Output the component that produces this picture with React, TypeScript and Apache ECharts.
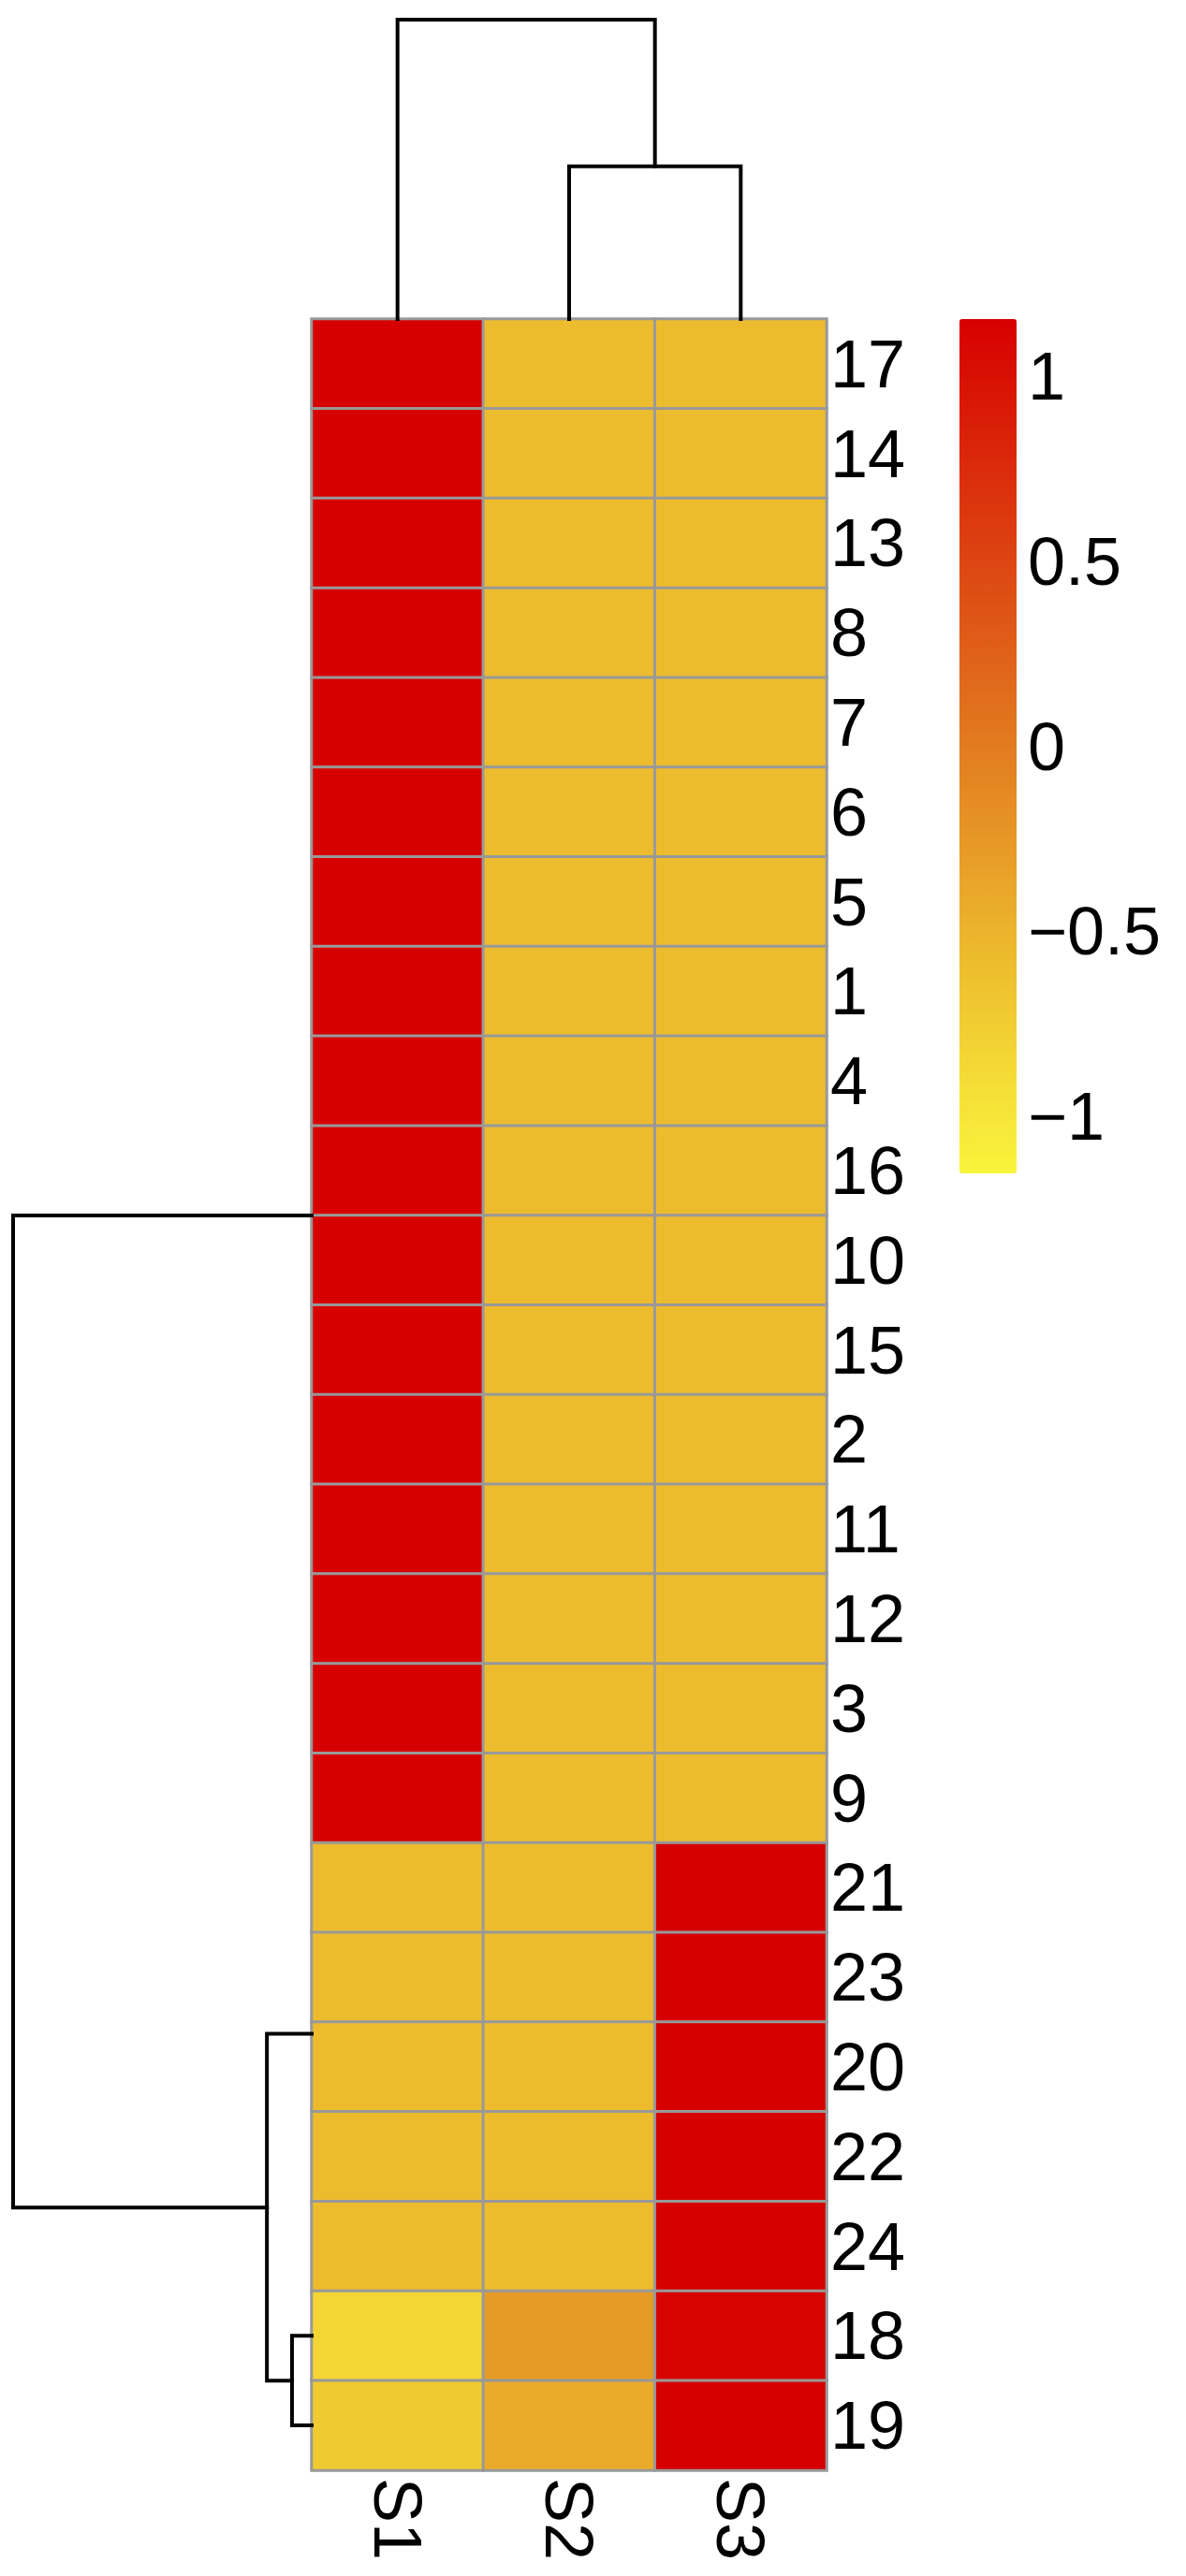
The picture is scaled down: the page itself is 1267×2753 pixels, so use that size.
import React, { useEffect, useRef } from "react";
import * as echarts from "echarts";

// Row labels, top to bottom, as ordered by the row dendrogram
const ROW_LABELS = ["17", "14", "13", "8", "7", "6", "5", "1", "4", "16", "10", "15", "2", "11", "12", "3", "9", "21", "23", "20", "22", "24", "18", "19"];
const COL_LABELS = ["S1", "S2", "S3"];

// Row-scaled values (z-scores), one array per column, in row order above
const S1_VALUES = [1.155, 1.155, 1.155, 1.155, 1.155, 1.155, 1.155, 1.155, 1.155, 1.155, 1.155, 1.155, 1.155, 1.155, 1.155, 1.155, 1.155, -0.577, -0.577, -0.577, -0.577, -0.577, -0.84, -0.72];
const S2_VALUES = [-0.577, -0.577, -0.577, -0.577, -0.577, -0.577, -0.577, -0.577, -0.577, -0.577, -0.577, -0.577, -0.577, -0.577, -0.577, -0.577, -0.577, -0.577, -0.577, -0.577, -0.577, -0.577, -0.28, -0.43];
const S3_VALUES = [-0.577, -0.577, -0.577, -0.577, -0.577, -0.577, -0.577, -0.577, -0.577, -0.577, -0.577, -0.577, -0.577, -0.577, -0.577, -0.577, -0.577, 1.155, 1.155, 1.155, 1.155, 1.155, 1.12, 1.15];

// Colour scale
const SCALE_MIN = -1.1547;
const SCALE_MAX = 1.1547;
const SCALE_TICKS = [-1, -0.5, 0, 0.5, 1];
const SCALE_COLORS = ["#FAF43C", "#EDBC2E", "#E27B20", "#DC3D10", "#D70000"];

// Column dendrogram links: [leftPos, rightPos, leftChildHeight, rightChildHeight, mergeHeight]
// positions in column units (centres at 0.5, 1.5, 2.5), heights relative to root
const COL_LINKS = [
  [1.5, 2.5, 0, 0, 0.51],
  [0.5, 2.0, 0, 0.51, 1.0],
];

// Row dendrogram links: [topPos, bottomPos, topChildHeight, bottomChildHeight, mergeHeight]
// positions in row units from the top (row i spans i..i+1), heights relative to root
const ROW_LINKS = [
  [22.5, 23.5, 0, 0, 0.066],
  [19.13, 23.0, 0, 0.066, 0.15],
  [10.0, 21.07, 0, 0.15, 1.0],
];

const FONT = "'Liberation Sans', Arial, Helvetica, sans-serif";

export default function App() {
  const ref = useRef<HTMLDivElement>(null);

  useEffect(() => {
    document.body.style.margin = "0";
    const chart = echarts.init(ref.current as HTMLDivElement, null, { renderer: "svg" });

    const columns = [S1_VALUES, S2_VALUES, S3_VALUES];
    const data: number[][] = [];
    columns.forEach((vals, c) => vals.forEach((v, r) => data.push([c, r, v])));

    const lineStyle = { stroke: "#000", lineWidth: 4, fill: "none", lineJoin: "miter", lineCap: "square" };

    chart.setOption({
      animation: false,
      grid: [
        { left: 333, top: 341, width: 550, height: 2299 },
        { left: 333, top: 21, width: 550, height: 320 },
        { left: 14, top: 341, width: 319, height: 2299 },
        { left: 1025, top: 341, width: 61, height: 913 },
      ],
      xAxis: [
        {
          type: "category",
          gridIndex: 0,
          data: COL_LABELS,
          position: "bottom",
          axisLine: { show: false },
          axisTick: { show: false },
          splitLine: { show: false },
          axisLabel: { rotate: -90, fontSize: 72, color: "#000", margin: 8, fontFamily: FONT },
        },
        { type: "value", gridIndex: 1, min: 0, max: 3, show: false },
        { type: "value", gridIndex: 2, min: 0, max: 1, inverse: true, show: false },
        { type: "value", gridIndex: 3, min: 0, max: 1, show: false },
      ],
      yAxis: [
        {
          type: "category",
          gridIndex: 0,
          data: ROW_LABELS,
          inverse: true,
          position: "right",
          axisLine: { show: false },
          axisTick: { show: false },
          splitLine: { show: false },
          axisLabel: { fontSize: 72, color: "#000", margin: 4, fontFamily: FONT },
        },
        { type: "value", gridIndex: 1, min: 0, max: 1, show: false },
        { type: "value", gridIndex: 2, min: 0, max: 24, inverse: true, show: false },
        {
          type: "value",
          gridIndex: 3,
          min: SCALE_MIN,
          max: SCALE_MAX,
          position: "right",
          axisLine: { show: false },
          axisTick: { show: false },
          splitLine: { show: false },
          axisLabel: {
            customValues: SCALE_TICKS,
            fontSize: 72,
            color: "#000",
            margin: 12,
            fontFamily: FONT,
            formatter: (v: number) => String(v).replace("-", "\u2212"),
          },
        },
      ],
      visualMap: {
        type: "continuous",
        min: SCALE_MIN,
        max: SCALE_MAX,
        dimension: 2,
        seriesIndex: 0,
        orient: "vertical",
        left: 1025,
        top: 341,
        itemWidth: 61,
        itemHeight: 913,
        padding: 0,
        calculable: false,
        hoverLink: false,
        inRange: { color: SCALE_COLORS },
      },
      series: [
        {
          type: "heatmap",
          xAxisIndex: 0,
          yAxisIndex: 0,
          data,
          itemStyle: { borderColor: "#999999", borderWidth: 3 },
          emphasis: { disabled: true },
          silent: true,
        },
        {
          type: "custom",
          xAxisIndex: 1,
          yAxisIndex: 1,
          data: COL_LINKS,
          silent: true,
          renderItem: (_p: any, api: any) => {
            const a1 = api.value(0), a2 = api.value(1), hL = api.value(2), hR = api.value(3), hM = api.value(4);
            return {
              type: "polyline",
              shape: { points: [api.coord([a1, hL]), api.coord([a1, hM]), api.coord([a2, hM]), api.coord([a2, hR])] },
              style: lineStyle,
            };
          },
        },
        {
          type: "custom",
          xAxisIndex: 2,
          yAxisIndex: 2,
          data: ROW_LINKS,
          silent: true,
          renderItem: (_p: any, api: any) => {
            const a1 = api.value(0), a2 = api.value(1), hL = api.value(2), hR = api.value(3), hM = api.value(4);
            return {
              type: "polyline",
              shape: { points: [api.coord([hL, a1]), api.coord([hM, a1]), api.coord([hM, a2]), api.coord([hR, a2])] },
              style: lineStyle,
            };
          },
        },
      ],
    });

    return () => chart.dispose();
  }, []);

  return <div ref={ref} style={{ width: 1267, height: 2753 }} />;
}
